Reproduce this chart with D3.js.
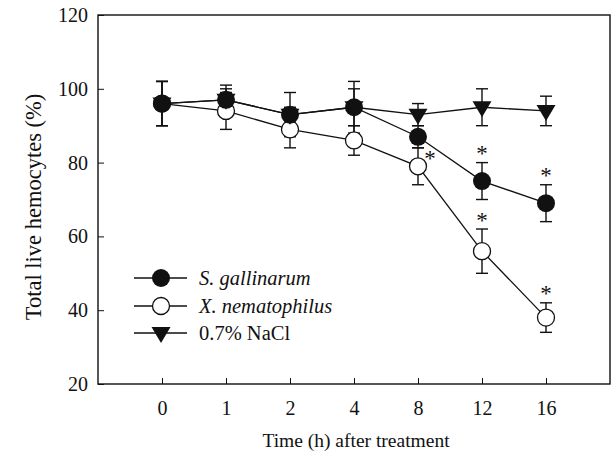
<!DOCTYPE html>
<html><head><meta charset="utf-8">
<script src="https://cdn.jsdelivr.net/npm/d3@7"></script>
<style>body{margin:0;background:#fff}svg{display:block}text{font-family:"Liberation Serif","Times New Roman",serif;fill:#111}</style>
</head><body><svg id="c" width="612" height="452"></svg>
<script>
const categories = ["0","1","2","4","8","12","16"];
const yTicks = [20,40,60,80,100,120];
const sgMean = [96,97,93,95,87,75,69];
const sgErr  = [6,4,6,7,3,5,5];
const xnMean = [96,94,89,86,79,56,38];
const xnErr  = [6,5,5,4,5,6,4];
const naMean = [96,97,93,95,93,95,94];
const naErr  = [6,3,2,5,3,5,4];
const sgStar = [false,false,false,false,false,true,true];
const xnStar = [false,false,false,false,true,true,true];
const seriesNames = ["S. gallinarum","X. nematophilus","0.7% NaCl"];

const svg = d3.select("#c");
const L=98,R=610,T=15,B=384;
const x = d3.scalePoint().domain(categories).range([L,R]).padding(1);
const y = d3.scaleLinear().domain([20,120]).range([B,T]);
const ink="#111";

svg.append("rect").attr("x",L).attr("y",T).attr("width",R-L).attr("height",B-T)
  .attr("fill","none").attr("stroke",ink).attr("stroke-width",1.4);

const yAx = svg.append("g").attr("transform",`translate(${L},0)`)
  .call(d3.axisLeft(y).tickValues(yTicks).tickSizeInner(-6).tickSizeOuter(0).tickPadding(10));
yAx.select(".domain").remove();
yAx.selectAll("line").attr("stroke",ink);
yAx.selectAll("text").attr("font-size",20).style("font-family","Liberation Serif").attr("fill",ink);

const xAx = svg.append("g").attr("transform",`translate(0,${B})`)
  .call(d3.axisBottom(x).tickSizeInner(-6).tickSizeOuter(0).tickPadding(17));
xAx.select(".domain").remove();
xAx.selectAll("line").attr("stroke",ink);
xAx.selectAll("text").attr("font-size",20).style("font-family","Liberation Serif").attr("fill",ink);

svg.append("text").attr("x",356).attr("y",447).attr("text-anchor","middle").attr("font-size",19.5)
  .text("Time (h) after treatment");
svg.append("text").attr("transform",`translate(33,207) rotate(-90)`).attr("text-anchor","middle")
  .attr("dy","0.35em").attr("font-size",22.5).text("Total live hemocytes (%)");

const series = [
  {mean:sgMean, err:sgErr, type:"filled"},
  {mean:xnMean, err:xnErr, type:"open"},
  {mean:naMean, err:naErr, type:"tri"}
];
const line = d3.line().x((d,i)=>x(categories[i])).y(d=>y(d));
series.forEach(s=>{
  svg.append("path").attr("d",line(s.mean)).attr("fill","none").attr("stroke",ink).attr("stroke-width",1.3);
});
series.forEach(s=>{
  const g = svg.append("g").attr("stroke",ink).attr("stroke-width",1.4);
  s.mean.forEach((m,i)=>{
    const cx = x(categories[i]);
    g.append("line").attr("x1",cx).attr("x2",cx).attr("y1",y(m+s.err[i])).attr("y2",y(m-s.err[i]));
    [m+s.err[i], m-s.err[i]].forEach(v=>{
      g.append("line").attr("x1",cx-6).attr("x2",cx+6).attr("y1",y(v)).attr("y2",y(v));
    });
  });
});
function marker(g,type,cx,cy){
  if(type==="filled") g.append("circle").attr("cx",cx).attr("cy",cy).attr("r",9).attr("fill",ink);
  else if(type==="open") g.append("circle").attr("cx",cx).attr("cy",cy).attr("r",8.5).attr("fill","#fff").attr("stroke",ink).attr("stroke-width",1.3);
  else g.append("path").attr("d",`M${cx-9.5},${cy-6}L${cx+9.5},${cy-6}L${cx},${cy+10}Z`).attr("fill",ink);
}
[1,2,0].forEach(k=>{
  const s=series[k]; const g=svg.append("g");
  s.mean.forEach((m,i)=>marker(g,s.type,x(categories[i]),y(m)));
});
function star(cx,cyCenter){
  svg.append("text").attr("x",cx).attr("y",cyCenter+10.5).attr("text-anchor","middle")
    .attr("font-size",23).text("*");
}
sgStar.forEach((f,i)=>{ if(f) star(x(categories[i]), y(sgMean[i]+sgErr[i])-12); });
xnStar.forEach((f,i)=>{ if(!f) return;
  if(categories[i]==="8") star(x(categories[i])+12, y(xnMean[i])-11);
  else star(x(categories[i]), y(xnMean[i]+xnErr[i])-12);
});

const legY=[278,306,333];
seriesNames.forEach((n,k)=>{
  const g=svg.append("g");
  g.append("line").attr("x1",134).attr("x2",187).attr("y1",legY[k]).attr("y2",legY[k]).attr("stroke",ink).attr("stroke-width",1.3);
  marker(g,series[k].type,161,legY[k]);
  g.append("text").attr("x",199).attr("y",legY[k]+7).attr("font-size",20.5)
    .attr("font-style",k<2?"italic":"normal").text(n);
});
</script></body></html>
